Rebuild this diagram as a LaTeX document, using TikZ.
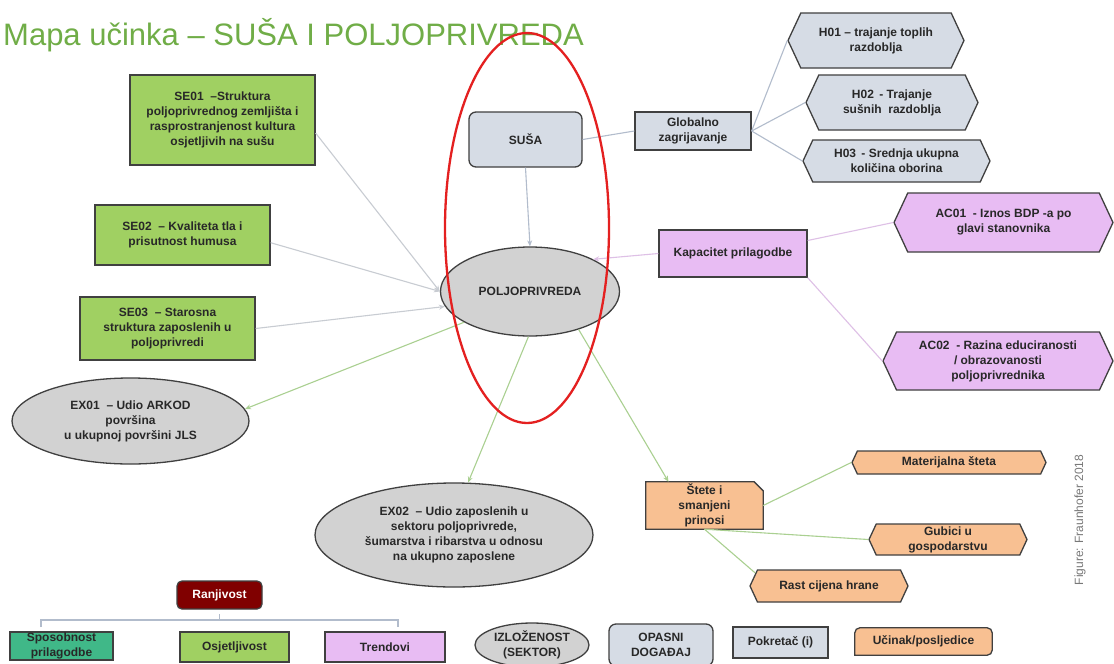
\documentclass[tikz,border=0pt]{standalone}
\usepackage{fontspec}
\setmainfont{Liberation Sans}
\usetikzlibrary{shapes.geometric,shapes.symbols,arrows.meta,backgrounds}
\definecolor{titlegreen}{RGB}{112,173,71}
\definecolor{segreen}{RGB}{160,208,98}
\definecolor{hazgray}{RGB}{214,220,229}
\definecolor{expgray}{RGB}{210,210,210}
\definecolor{acpurple}{RGB}{232,188,243}
\definecolor{imporange}{RGB}{248,192,146}
\definecolor{ranjred}{RGB}{128,0,0}
\definecolor{tealbox}{RGB}{64,184,136}
\definecolor{bord}{RGB}{64,64,64}
\definecolor{txt}{RGB}{40,40,40}
\definecolor{lngray}{RGB}{200,204,210}
\definecolor{lngreen}{RGB}{170,208,145}
\definecolor{lnblue}{RGB}{178,188,204}
\definecolor{lnpurple}{RGB}{222,192,230}
\definecolor{focusred}{RGB}{228,32,32}
\definecolor{figgray}{RGB}{120,120,120}
\begin{document}
\begin{tikzpicture}[x=1pt,y=-1pt,
  lbl/.style={font=\fontsize{12}{15}\selectfont\bfseries, text=txt, align=center, inner sep=0pt},
  box/.style={lbl, draw=bord, line width=1.3pt, rectangle},
  sebox/.style={box, fill=segreen},
  hazbox/.style={box, fill=hazgray},
  acbox/.style={box, fill=acpurple},
  expell/.style={lbl, ellipse, draw=bord, line width=1.3pt, fill=expgray},
  hexbox/.style={lbl, draw=bord, line width=1.3pt, shape=signal, signal to=east and west, signal pointer angle=130},
  conn/.style={line width=1.1pt, -{Stealth[length=6pt,width=5pt]}},
  plain/.style={line width=1.1pt}]
\useasboundingbox (0,0) rectangle (1114,664);
\begin{scope}[on background layer]
\fill[white] (0,0) rectangle (1114,664);
\end{scope}

% title
\node[anchor=base west, inner sep=0pt, font=\fontsize{31}{36}\selectfont, text=titlegreen] (title) at (3,45) {Mapa učinka – SUŠA I POLJOPRIVREDA};

% sensitivity boxes
\node[sebox, minimum width=185, minimum height=90] (se1) at (222.5,120) {SE01 \ –Struktura\\poljoprivrednog zemljišta i\\rasprostranjenost kultura\\osjetljivih na sušu};
\node[sebox, minimum width=175, minimum height=60] (se2) at (182.5,235) {SE02 \ – Kvaliteta tla i\\prisutnost humusa};
\node[sebox, minimum width=175, minimum height=63] (se3) at (167.5,328.5) {SE03 \ – Starosna\\struktura zaposlenih u\\poljoprivredi};

% hazard and drivers
\node[hazbox, rounded corners=7pt, minimum width=113, minimum height=55] (susa) at (525.5,139.5) {SUŠA};
\node[hazbox, minimum width=116, minimum height=38] (glob) at (693,131) {Globalno\\zagrijavanje};
\node[hexbox, fill=hazgray, minimum width=176, minimum height=55] (h1) at (876,40.5) {H01 – trajanje toplih\\razdoblja};
\node[hexbox, fill=hazgray, minimum width=172, minimum height=55] (h2) at (892,102.5) {H02 \,- Trajanje\\sušnih \ razdoblja};
\node[hexbox, fill=hazgray, minimum width=187, minimum height=42] (h3) at (896.5,161) {H03 \,- Srednja ukupna\\količina oborina};

% adaptive capacity
\node[acbox, minimum width=148, minimum height=47] (kap) at (733,253.5) {Kapacitet prilagodbe};
\node[hexbox, fill=acpurple, minimum width=219, minimum height=59] (ac1) at (1003.5,222.5) {AC01 \ - Iznos BDP -a po\\glavi stanovnika};
\node[hexbox, fill=acpurple, minimum width=230, minimum height=58] (ac2) at (998,361) {AC02 \ - Razina educiranosti\\/ obrazovanosti\\poljoprivrednika};

% exposure
\node[expell, minimum width=179, minimum height=89] (polj) at (530,291.5) {POLJOPRIVREDA};
\node[expell, minimum width=237, minimum height=86] (ex1) at (130.5,421) {EX01 \ – Udio ARKOD\\površina\\u ukupnoj površini JLS};
\node[expell, minimum width=278, minimum height=104] (ex2) at (454,535) {EX02 \ – Udio zaposlenih u\\sektoru poljoprivrede,\\šumarstva i ribarstva u odnosu\\na ukupno zaposlene};

% impacts
\node[lbl, minimum width=117, minimum height=47] (stete) at (704.5,505.5) {Štete i\\smanjeni\\prinosi};
\begin{scope}[on background layer]
\draw[fill=imporange, draw=bord, line width=1.3pt] (stete.south west) -- (stete.north west) -- ([xshift=-9pt]stete.north east) -- ([yshift=-9pt]stete.north east) -- (stete.south east) -- cycle;
\end{scope}
\node[hexbox, fill=imporange, minimum width=194, minimum height=23] (mat) at (949,462.5) {Materijalna šteta};
\node[hexbox, fill=imporange, minimum width=158, minimum height=31] (gub) at (948,539.5) {Gubici u\\gospodarstvu};
\node[hexbox, fill=imporange, minimum width=158, minimum height=32] (rast) at (829,586) {Rast cijena hrane};

\node[rotate=90, inner sep=0pt, font=\fontsize{12}{14}\selectfont, text=figgray] (fig) at (1080,520) {Figure: Fraunhofer 2018};

% connectors
\draw[conn, lngray] (se1.-8) -- (polj.west);
\draw[conn, lngray] (se2.-5) -- (polj.west);
\draw[conn, lngray] (se3.east) -- (polj.190);
\draw[conn, lngreen] (polj.205) -- (ex1.6);
\draw[conn, lngreen] (polj.268) -- (ex2.75);
\draw[conn, lngreen] (polj.-38) -- ([xshift=-36pt]stete.north);
\draw[conn, lnblue] (susa.south) -- (polj.north);
\draw[plain, lnblue] (glob.west) -- (susa.east);
\draw[plain, lnblue] (glob.east) -- (h1.west);
\draw[plain, lnblue] (glob.east) -- (h2.west);
\draw[plain, lnblue] (glob.east) -- (h3.west);
\draw[conn, lnpurple] (kap.west) -- (polj.27);
\draw[plain, lnpurple] ([yshift=13pt]kap.east) -- (ac1.west);
\draw[plain, lnpurple] (kap.south east) -- (ac2.west);
\draw[plain, lngreen] (stete.east) -- (mat.west);
\draw[plain, lngreen] (stete.south) -- (gub.west);
\draw[plain, lngreen] (stete.south) -- (rast.170);

% focus ellipse
\node[ellipse, draw=focusred, line width=2.3pt, minimum width=164, minimum height=390, inner sep=0pt] (focus) at (527,228) {};

% legend
\node[box, rounded corners=5pt, fill=ranjred, text=white, minimum width=85, minimum height=28] (ranj) at (219.5,595) {Ranjivost};
\coordinate (bt) at (219.5,614);
\coordinate (bm) at (219.5,620);
\coordinate (bl) at (41,627);
\coordinate (br) at (398,627);
\draw[plain, lnblue] (bl) -- (bl |- bm) -- (br |- bm) -- (br);
\draw[plain, lnblue] (bt) -- (bm);
\node[box, fill=tealbox, minimum width=103, minimum height=28] (spos) at (61.5,646) {Sposobnost\\prilagodbe};
\node[sebox, minimum width=109, minimum height=30] (osj) at (234.5,647) {Osjetljivost};
\node[acbox, minimum width=120, minimum height=30] (trend) at (385,647) {Trendovi};
\node[expell, minimum width=114, minimum height=44] (izl) at (532,645) {IZLOŽENOST\\(SEKTOR)};
\node[hazbox, rounded corners=7pt, minimum width=104, minimum height=42] (opas) at (661,645) {OPASNI\\DOGAĐAJ};
\node[hazbox, minimum width=95, minimum height=31] (pokr) at (780.5,642.5) {Pokretač (i)};
\node[lbl, minimum width=137, minimum height=27] (ucin) at (923.5,641.5) {Učinak/posljedice};
\begin{scope}[on background layer]
\draw[fill=imporange, draw=bord, line width=1.3pt] (ucin.south west) [rounded corners=5pt] -- (ucin.north west) -- (ucin.north east) -- (ucin.south east) [sharp corners] -- cycle;
\end{scope}
\end{tikzpicture}
\end{document}
